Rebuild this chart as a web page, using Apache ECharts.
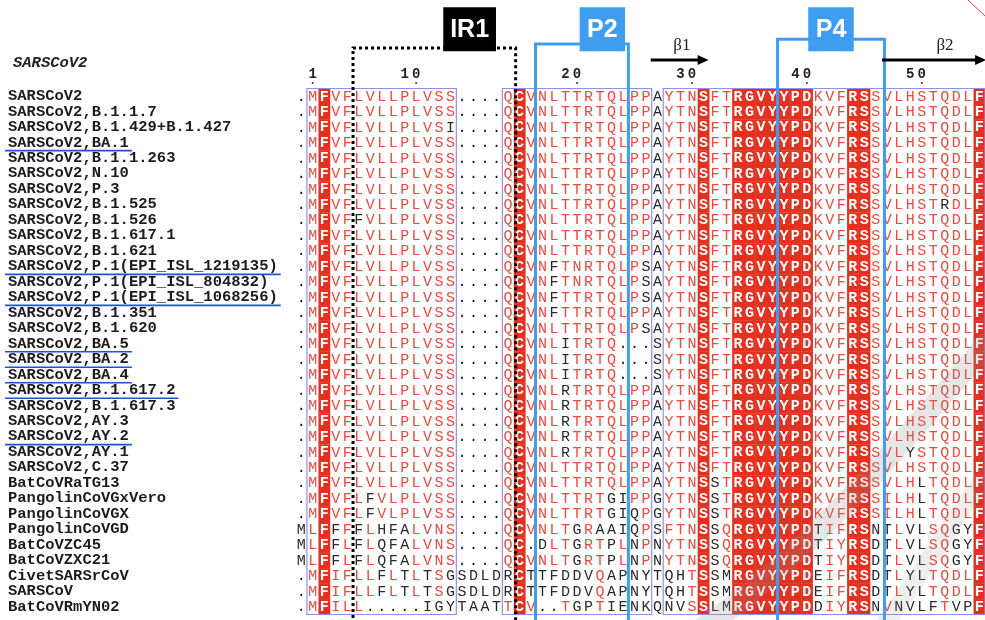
<!DOCTYPE html>
<html>
<head>
<meta charset="utf-8">
<script src="https://cdn.jsdelivr.net/npm/echarts@6/dist/echarts.min.js"></script>
<style>
  html, body { margin: 0; padding: 0; background: #fff; }
  #main { width: 985px; height: 620px; }
</style>
</head>
<body>
<div id="main"></div>
<script>
// sequence names (rows, top to bottom)
var names = [
  'SARSCoV2', 'SARSCoV2,B.1.1.7', 'SARSCoV2,B.1.429+B.1.427', 'SARSCoV2,BA.1',
  'SARSCoV2,B.1.1.263', 'SARSCoV2,N.10', 'SARSCoV2,P.3', 'SARSCoV2,B.1.525',
  'SARSCoV2,B.1.526', 'SARSCoV2,B.1.617.1', 'SARSCoV2,B.1.621',
  'SARSCoV2,P.1(EPI_ISL_1219135)', 'SARSCoV2,P.1(EPI_ISL_804832)', 'SARSCoV2,P.1(EPI_ISL_1068256)',
  'SARSCoV2,B.1.351', 'SARSCoV2,B.1.620', 'SARSCoV2,BA.5', 'SARSCoV2,BA.2', 'SARSCoV2,BA.4',
  'SARSCoV2,B.1.617.2', 'SARSCoV2,B.1.617.3', 'SARSCoV2,AY.3', 'SARSCoV2,AY.2', 'SARSCoV2,AY.1',
  'SARSCoV2,C.37', 'BatCoVRaTG13', 'PangolinCoVGxVero', 'PangolinCoVGX', 'PangolinCoVGD',
  'BatCoVZC45', 'BatCoVZXC21', 'CivetSARSrCoV', 'SARSCoV', 'BatCoVRmYN02'
];

// aligned sequences, 60 columns each
var seqs = [
  '.MFVFLVLLPLVSS....QCVNLTTRTQLPPAYTNSFTRGVYYPDKVFRSSVLHSTQDLF',
  '.MFVFLVLLPLVSS....QCVNLTTRTQLPPAYTNSFTRGVYYPDKVFRSSVLHSTQDLF',
  '.MFVFLVLLPLVSI....QCVNLTTRTQLPPAYTNSFTRGVYYPDKVFRSSVLHSTQDLF',
  '.MFVFLVLLPLVSS....QCVNLTTRTQLPPAYTNSFTRGVYYPDKVFRSSVLHSTQDLF',
  '.MFVFLVLLPLVSS....QCVNLTTRTQLPPAYTNSFTRGVYYPDKVFRSSVLHSTQDLF',
  '.MFVFLVLLPLVSS....QCVNLTTRTQLPPAYTNSFTRGVYYPDKVFRSSVLHSTQDLF',
  '.MFVFLVLLPLVSS....QCVNLTTRTQLPPAYTNSFTRGVYYPDKVFRSSVLHSTQDLF',
  '.MFVFLVLLPLVSS....QCVNLTTRTQLPPAYTNSFTRGVYYPDKVFRSSVLHSTRDLF',
  '.MFVFFVLLPLVSS....QCVNLTTRTQLPPAYTNSFTRGVYYPDKVFRSSVLHSTQDLF',
  '.MFVFLVLLPLVSS....QCVNLTTRTQLPPAYTNSFTRGVYYPDKVFRSSVLHSTQDLF',
  '.MFVFLVLLPLVSS....QCVNLTTRTQLPPAYTNSFTRGVYYPDKVFRSSVLHSTQDLF',
  '.MFVFLVLLPLVSS....QCVNFTNRTQLPSAYTNSFTRGVYYPDKVFRSSVLHSTQDLF',
  '.MFVFLVLLPLVSS....QCVNFTNRTQLPSAYTNSFTRGVYYPDKVFRSSVLHSTQDLF',
  '.MFVFLVLLPLVSS....QCVNFTTRTQLPSAYTNSFTRGVYYPDKVFRSSVLHSTQDLF',
  '.MFVFLVLLPLVSS....QCVNFTTRTQLPPAYTNSFTRGVYYPDKVFRSSVLHSTQDLF',
  '.MFVFLVLLPLVSS....QCVNLTTRTQLPSAYTNSFTRGVYYPDKVFRSSVLHSTQDLF',
  '.MFVFLVLLPLVSS....QCVNLITRTQ...SYTNSFTRGVYYPDKVFRSSVLHSTQDLF',
  '.MFVFLVLLPLVSS....QCVNLITRTQ...SYTNSFTRGVYYPDKVFRSSVLHSTQDLF',
  '.MFVFLVLLPLVSS....QCVNLITRTQ...SYTNSFTRGVYYPDKVFRSSVLHSTQDLF',
  '.MFVFLVLLPLVSS....QCVNLRTRTQLPPAYTNSFTRGVYYPDKVFRSSVLHSTQDLF',
  '.MFVFLVLLPLVSS....QCVNLRTRTQLPPAYTNSFTRGVYYPDKVFRSSVLHSTQDLF',
  '.MFVFLVLLPLVSS....QCVNLRTRTQLPPAYTNSFTRGVYYPDKVFRSSVLHSTQDLF',
  '.MFVFLVLLPLVSS....QCVNLRTRTQLPPAYTNSFTRGVYYPDKVFRSSVLHSTQDLF',
  '.MFVFLVLLPLVSS....QCVNLRTRTQLPPAYTNSFTRGVYYPDKVFRSSVLYSTQDLF',
  '.MFVFLVLLPLVSS....QCVNLTTRTQLPPAYTNSFTRGVYYPDKVFRSSVLHSTQDLF',
  '.MFVFLVLLPLVSS....QCVNLTTRTQLPPAYTNSSTRGVYYPDKVFRSSVLHLTQDLF',
  '.MFVFLFVLPLVSS....QCVNLTTRTGIPPGYTNSSTRGVYYPDKVFRSSILHLTQDLF',
  '.MFVFLFVLPLVSS....QCVNLTTRTGIQPGYTNSSTRGVYYPDKVFRSSILHLTQDLF',
  'MLFFFFLHFALVNS....QCVNLTGRAAIQPSFTNSSQRGVYYPDTIFRSNTLVLSQGYF',
  'MLFFLFLQFALVNS....QC.DLTGRTPLNPNYTNSSQRGVYYPDTIYRSDTLVLSQGYF',
  'MLFFLFLQFALVNS....QCVNLTGRTPLNPNYTNSSQRGVYYPDTIYRSDTLVLSQGYF',
  '.MFIFLLFLTLTSGSDLDRCTTFDDVQAPNYTQHTSSMRGVYYPDEIFRSDTLYLTQDLF',
  '.MFIFLLFLTLTSGSDLDRCTTFDDVQAPNYTQHTSSMRGVYYPDEIFRSDTLYLTQDLF',
  '.MFILL.....IGYTAATTCV..TGPTIENKQNVSSLMRGVYYPDDIYRSNVNVLFTVPF'
];

// strictly conserved columns (red background)
var conservedCols = [2, 19, 35, 38, 39, 40, 41, 42, 43, 44, 48, 49, 59];
// similarity blocks (blue frames), first and last column
var boxRanges = [[1, 13], [18, 30], [32, 59]];
// residues inside a block that are not similar (black), per row
var blackCols = [
  [], [], [13], [], [], [], [], [56], [5], [], [],
  [22, 30], [22, 30], [22, 30], [22], [30],
  [23], [23], [23], [23], [23], [23], [23], [23, 53], [],
  [36, 54],
  [6, 27, 28, 36, 54],
  [6, 27, 28, 29, 36, 54],
  [3, 5, 7, 8, 9, 24, 26, 27, 28, 29, 36, 45, 50, 51, 53, 54, 57, 58],
  [3, 5, 7, 8, 9, 21, 24, 27, 29, 36, 45, 50, 51, 53, 54, 57, 58],
  [3, 5, 7, 8, 9, 24, 27, 29, 36, 45, 50, 51, 53, 54, 57, 58],
  [7, 9, 11, 13, 18, 20, 21, 22, 23, 24, 25, 27, 28, 29, 30, 32, 33, 36, 37, 45, 50, 51, 53, 54],
  [7, 9, 11, 13, 18, 20, 21, 22, 23, 24, 25, 27, 28, 29, 30, 32, 33, 36, 37, 45, 50, 51, 53, 54],
  [11, 12, 13, 24, 25, 27, 28, 29, 30, 32, 33, 36, 37, 45, 50, 52, 53, 54, 55, 57, 58]
];
// underlined sequence names
var underlinedRows = [3, 11, 13, 16, 17, 18, 19, 22];
// residue numbering of the reference sequence
var numberCols = [1, 10, 24, 34, 44, 54];
var numberLabels = ['1', '10', '20', '30', '40', '50'];
// boxed regions above the alignment
var regionNames = ['IR1', 'P2', 'P4'];
var regionFrom = [4.51, 20.39, 41.45];
var regionTo = [18.66, 28.47, 50.75];
// secondary structure arrows
var strandNames = ['β1', 'β2'];
var strandFrom = [30.41, 50.54];
var strandTo = [35.45, 59.6];

var RED_BG = '#e4301f';
var RED_TXT = '#ec4a3f';
var DARK = '#2a2a2a';
var BLUE = '#3f9df0';
var NAME_X = 8;
var NAME_SIZE = 15.5;
var MONO = '"Liberation Mono", "DejaVu Sans Mono", monospace';

function inBox(col) {
  for (var i = 0; i < boxRanges.length; i++) {
    if (col >= boxRanges[i][0] && col <= boxRanges[i][1]) return true;
  }
  return false;
}

var cellData = [];
seqs.forEach(function (s, r) {
  for (var c = 0; c < s.length; c++) cellData.push([c, r]);
});

/* 每个残基格子 */
function renderCell(params, api) {
  var col = api.value(0), row = api.value(1);
  var ch = seqs[row].charAt(col);
  var p = api.coord([col, row]);
  var sz = api.size([1, 1]);
  var children = [];
  var fill = DARK, weight = 'normal';
  if (ch === '.') {
    fill = '#111';
  } else if (conservedCols.indexOf(col) >= 0) {
    children.push({
      type: 'rect',
      shape: { x: p[0] - sz[0] / 2, y: p[1] - sz[1] / 2, width: sz[0] + 0.3, height: sz[1] + 0.3 },
      style: { fill: RED_BG }
    });
    fill = '#fff';
    weight = 'bold';
  } else if (inBox(col) && blackCols[row].indexOf(col) < 0) {
    fill = RED_TXT;
  }
  children.push({
    type: 'text',
    style: {
      text: ch, x: p[0], y: p[1] + 0.5,
      align: 'center', verticalAlign: 'middle',
      fill: fill, font: weight + ' 15px ' + MONO
    }
  });
  return { type: 'group', children: children };
}

function renderBoxes(params, api) {
  var b = boxRanges[params.dataIndex];
  var a = api.coord([b[0] - 0.5, -0.5]);
  var z = api.coord([b[1] + 0.5, seqs.length - 0.5]);
  return {
    type: 'rect',
    shape: { x: a[0], y: a[1], width: z[0] - a[0], height: z[1] - a[1] },
    style: { fill: null, stroke: '#8f8ff3', lineWidth: 1.2 }
  };
}

function renderUnderline(params, api) {
  var row = underlinedRows[params.dataIndex];
  var y = api.coord([0, row])[1] + 8;
  var w = names[row].length * NAME_SIZE * 0.6;
  return {
    type: 'line',
    shape: { x1: NAME_X - 3, y1: y, x2: NAME_X + w + 3, y2: y },
    style: { stroke: '#1f4fe0', lineWidth: 1.6 }
  };
}

function renderNumber(params, api) {
  var i = params.dataIndex;
  var label = numberLabels[i];
  var children = [];
  for (var k = 0; k < label.length; k++) {
    var p = api.coord([numberCols[i] - (label.length - 1 - k), -1.43]);
    children.push({
      type: 'text',
      style: { text: label.charAt(k), x: p[0], y: p[1], align: 'center', verticalAlign: 'middle', fill: '#222', font: 'bold 14px ' + MONO }
    });
  }
  var d = api.coord([numberCols[i], -0.85]);
  children.push({ type: 'circle', shape: { cx: d[0], cy: d[1], r: 1 }, style: { fill: '#333' } });
  return { type: 'group', children: children };
}

function renderRegion(params, api) {
  var i = params.dataIndex;
  var isIR = regionNames[i] === 'IR1';
  var top = isIR ? -3.12 : (i === 1 ? -3.37 : -3.68);
  var p1 = api.coord([regionFrom[i], 34.5]);
  var p2 = api.coord([regionFrom[i], top]);
  var p3 = api.coord([regionTo[i], top]);
  var p4 = api.coord([regionTo[i], 34.5]);
  var mid = (regionFrom[i] + regionTo[i]) / 2;
  var lab = isIR ? [12.36, 16.95] : [mid - 1.98, mid + 1.98];
  if (!isIR && i === 1) lab = [24.23, 28.18];
  var l1 = api.coord([lab[0], -5.75]);
  var l2 = api.coord([lab[1], -2.9]);
  return {
    type: 'group',
    children: [
      {
        type: 'polyline',
        shape: { points: [p1, p2, p3, p4] },
        style: isIR
          ? { stroke: '#000', lineWidth: 3, lineDash: [3, 3], fill: null }
          : { stroke: BLUE, lineWidth: 3, fill: null }
      },
      {
        type: 'rect',
        shape: { x: l1[0], y: l1[1], width: l2[0] - l1[0], height: l2[1] - l1[1] },
        style: { fill: isIR ? '#000' : BLUE }
      },
      {
        type: 'text',
        style: {
          text: regionNames[i], x: (l1[0] + l2[0]) / 2, y: (l1[1] + l2[1]) / 2 + 1,
          align: 'center', verticalAlign: 'middle', fill: '#fff',
          font: 'bold 25px "Liberation Sans", Arial, sans-serif'
        }
      }
    ]
  };
}

function renderStrand(params, api) {
  var i = params.dataIndex;
  var a = api.coord([strandFrom[i], -2.34]);
  var b = api.coord([strandTo[i], -2.34]);
  var t = api.coord([(strandFrom[i] + strandTo[i]) / 2 + (i === 0 ? 0.2 : 0.95), -3.3]);
  return {
    type: 'group',
    children: [
      { type: 'line', shape: { x1: a[0], y1: a[1], x2: b[0] - 8, y2: b[1] }, style: { stroke: '#000', lineWidth: 3 } },
      { type: 'polygon', shape: { points: [[b[0], b[1]], [b[0] - 11, b[1] - 5], [b[0] - 11, b[1] + 5]] }, style: { fill: '#000' } },
      {
        type: 'text',
        style: { text: strandNames[i], x: t[0], y: t[1], align: 'center', verticalAlign: 'middle', fill: '#222', font: '17px "Liberation Serif", "DejaVu Serif", serif' }
      }
    ]
  };
}

var chart = echarts.init(document.getElementById('main'));
chart.setOption({
  animation: false,
  backgroundColor: '#fff',
  title: {
    text: 'SARSCoV2',
    left: NAME_X,
    top: 50,
    textStyle: { fontFamily: MONO, fontStyle: 'italic', fontWeight: 'bold', fontSize: NAME_SIZE, color: '#222' }
  },
  grid: { left: 295.45, top: 88.5, width: 693, height: 526 },
  xAxis: { type: 'value', min: -0.5, max: 59.5, show: false },
  yAxis: [
    {
      type: 'category',
      data: names,
      inverse: true,
      axisLine: { show: false },
      axisTick: { show: false },
      splitLine: { show: false },
      axisLabel: {
        interval: 0,
        align: 'left',
        margin: 295.45 - NAME_X,
        fontFamily: MONO,
        fontWeight: 'bold',
        fontSize: NAME_SIZE,
        color: '#1c1c1c'
      }
    },
    { type: 'value', min: -0.5, max: 33.5, inverse: true, show: false }
  ],
  graphic: [
    { type: 'line', shape: { x1: 968, y1: 0, x2: 985, y2: 16 }, style: { stroke: '#e04040', lineWidth: 1 } },
    // faint grey watermark ribbon in the lower right corner
    {
      type: 'bezierCurve', z: 20, silent: true,
      shape: { x1: 700, y1: 630, cpx1: 790, cpy1: 570, cpx2: 880, cpy2: 470, x2: 990, y2: 340 },
      style: { stroke: 'rgba(140,140,140,0.22)', lineWidth: 22, fill: null }
    },
    {
      type: 'bezierCurve', z: 20, silent: true,
      shape: { x1: 880, y1: 630, cpx1: 920, cpy1: 580, cpx2: 950, cpy2: 520, x2: 990, y2: 470 },
      style: { stroke: 'rgba(140,140,140,0.15)', lineWidth: 18, fill: null }
    }
  ],
  series: [
    { type: 'custom', yAxisIndex: 1, data: cellData, renderItem: renderCell, z: 2, silent: true },
    { type: 'custom', yAxisIndex: 1, data: boxRanges.map(function (b, i) { return [i]; }), renderItem: renderBoxes, z: 3, silent: true },
    { type: 'custom', yAxisIndex: 1, data: underlinedRows.map(function (r) { return [r]; }), renderItem: renderUnderline, z: 3, silent: true },
    { type: 'custom', yAxisIndex: 1, data: numberCols.map(function (c) { return [c]; }), renderItem: renderNumber, z: 3, silent: true },
    { type: 'custom', yAxisIndex: 1, data: regionNames.map(function (n, i) { return [i]; }), renderItem: renderRegion, z: 5, silent: true },
    { type: 'custom', yAxisIndex: 1, data: strandNames.map(function (n, i) { return [i]; }), renderItem: renderStrand, z: 5, silent: true }
  ]
});
</script>
</body>
</html>
